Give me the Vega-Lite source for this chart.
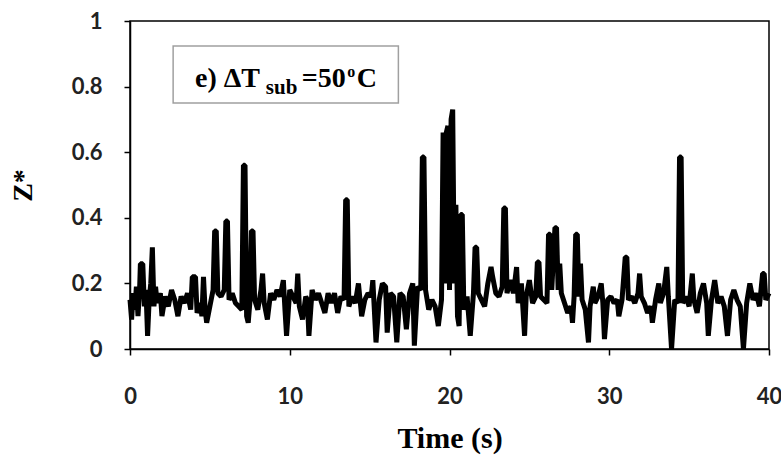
{
  "$schema": "https://vega.github.io/schema/vega-lite/v6.json",
  "width": 639,
  "height": 328,
  "autosize": {"type": "none"},
  "padding": {"left": 130, "top": 21, "right": 12, "bottom": 120},
  "background": "white",
  "config": {"view": {"stroke": "black", "strokeWidth": 1.5}},
  "layer": [
    {
      "data": {"values": [
        {"t":0,"z":0.15},{"t":0.1,"z":0.09},{"t":0.2,"z":0.17},{"t":0.3,"z":0.12},{"t":0.4,"z":0.19},{"t":0.5,"z":0.10},{"t":0.6,"z":0.18},{"t":0.65,"z":0.26},{"t":0.8,"z":0.26},{"t":0.9,"z":0.13},{"t":1.0,"z":0.18},{"t":1.1,"z":0.04},{"t":1.2,"z":0.15},{"t":1.3,"z":0.20},{"t":1.4,"z":0.31},{"t":1.5,"z":0.13},{"t":1.6,"z":0.19},{"t":1.7,"z":0.14},{"t":1.9,"z":0.17},{"t":2.0,"z":0.10},{"t":2.2,"z":0.16},{"t":2.4,"z":0.13},{"t":2.6,"z":0.18},{"t":2.8,"z":0.15},{"t":3.0,"z":0.10},{"t":3.2,"z":0.16},{"t":3.4,"z":0.14},{"t":3.6,"z":0.17},{"t":3.8,"z":0.12},{"t":3.9,"z":0.22},{"t":4.1,"z":0.22},{"t":4.2,"z":0.11},{"t":4.4,"z":0.14},{"t":4.5,"z":0.10},{"t":4.6,"z":0.22},{"t":4.7,"z":0.12},{"t":4.8,"z":0.08},{"t":5.0,"z":0.13},{"t":5.2,"z":0.18},{"t":5.3,"z":0.36},{"t":5.4,"z":0.36},{"t":5.5,"z":0.17},{"t":5.7,"z":0.16},{"t":5.9,"z":0.18},{"t":6.0,"z":0.39},{"t":6.1,"z":0.39},{"t":6.2,"z":0.15},{"t":6.4,"z":0.17},{"t":6.6,"z":0.14},{"t":6.8,"z":0.13},{"t":7.0,"z":0.12},{"t":7.1,"z":0.56},{"t":7.2,"z":0.56},{"t":7.3,"z":0.10},{"t":7.4,"z":0.08},{"t":7.5,"z":0.14},{"t":7.6,"z":0.36},{"t":7.7,"z":0.36},{"t":7.8,"z":0.15},{"t":8.0,"z":0.12},{"t":8.2,"z":0.18},{"t":8.3,"z":0.23},{"t":8.4,"z":0.14},{"t":8.6,"z":0.09},{"t":8.8,"z":0.17},{"t":9.0,"z":0.15},{"t":9.2,"z":0.18},{"t":9.4,"z":0.16},{"t":9.6,"z":0.21},{"t":9.7,"z":0.12},{"t":9.8,"z":0.04},{"t":10.0,"z":0.18},{"t":10.2,"z":0.16},{"t":10.4,"z":0.14},{"t":10.5,"z":0.23},{"t":10.6,"z":0.13},{"t":10.8,"z":0.09},{"t":11.0,"z":0.16},{"t":11.1,"z":0.15},{"t":11.2,"z":0.04},{"t":11.4,"z":0.18},{"t":11.6,"z":0.15},{"t":11.8,"z":0.17},{"t":12.0,"z":0.14},{"t":12.2,"z":0.11},{"t":12.4,"z":0.17},{"t":12.6,"z":0.14},{"t":12.8,"z":0.17},{"t":13.0,"z":0.11},{"t":13.2,"z":0.16},{"t":13.4,"z":0.15},{"t":13.5,"z":0.455},{"t":13.6,"z":0.455},{"t":13.7,"z":0.13},{"t":13.9,"z":0.16},{"t":14.1,"z":0.14},{"t":14.3,"z":0.20},{"t":14.5,"z":0.10},{"t":14.7,"z":0.15},{"t":14.9,"z":0.17},{"t":15.1,"z":0.16},{"t":15.2,"z":0.21},{"t":15.4,"z":0.02},{"t":15.6,"z":0.15},{"t":15.8,"z":0.20},{"t":16.0,"z":0.19},{"t":16.1,"z":0.05},{"t":16.3,"z":0.17},{"t":16.5,"z":0.16},{"t":16.7,"z":0.02},{"t":16.9,"z":0.17},{"t":17.1,"z":0.16},{"t":17.3,"z":0.06},{"t":17.5,"z":0.17},{"t":17.7,"z":0.20},{"t":17.8,"z":0.01},{"t":18.0,"z":0.19},{"t":18.2,"z":0.18},{"t":18.3,"z":0.585},{"t":18.4,"z":0.585},{"t":18.5,"z":0.18},{"t":18.7,"z":0.12},{"t":18.9,"z":0.15},{"t":19.1,"z":0.13},{"t":19.3,"z":0.07},{"t":19.5,"z":0.15},{"t":19.6,"z":0.66},{"t":19.7,"z":0.20},{"t":19.8,"z":0.66},{"t":19.9,"z":0.68},{"t":20.0,"z":0.18},{"t":20.1,"z":0.70},{"t":20.2,"z":0.73},{"t":20.3,"z":0.20},{"t":20.4,"z":0.44},{"t":20.5,"z":0.10},{"t":20.6,"z":0.07},{"t":20.7,"z":0.41},{"t":20.8,"z":0.41},{"t":20.9,"z":0.12},{"t":21.1,"z":0.16},{"t":21.3,"z":0.04},{"t":21.5,"z":0.17},{"t":21.6,"z":0.31},{"t":21.7,"z":0.31},{"t":21.8,"z":0.17},{"t":22.0,"z":0.15},{"t":22.2,"z":0.13},{"t":22.4,"z":0.20},{"t":22.6,"z":0.25},{"t":22.7,"z":0.22},{"t":22.9,"z":0.17},{"t":23.1,"z":0.16},{"t":23.3,"z":0.19},{"t":23.4,"z":0.43},{"t":23.5,"z":0.43},{"t":23.6,"z":0.17},{"t":23.8,"z":0.21},{"t":24.0,"z":0.17},{"t":24.2,"z":0.25},{"t":24.3,"z":0.14},{"t":24.5,"z":0.20},{"t":24.7,"z":0.04},{"t":24.8,"z":0.16},{"t":25.0,"z":0.21},{"t":25.2,"z":0.14},{"t":25.4,"z":0.16},{"t":25.5,"z":0.265},{"t":25.6,"z":0.265},{"t":25.7,"z":0.16},{"t":25.9,"z":0.15},{"t":26.1,"z":0.14},{"t":26.2,"z":0.35},{"t":26.3,"z":0.35},{"t":26.4,"z":0.18},{"t":26.6,"z":0.37},{"t":26.7,"z":0.37},{"t":26.8,"z":0.18},{"t":26.9,"z":0.26},{"t":27.0,"z":0.17},{"t":27.2,"z":0.14},{"t":27.4,"z":0.11},{"t":27.6,"z":0.13},{"t":27.7,"z":0.08},{"t":27.8,"z":0.16},{"t":27.9,"z":0.35},{"t":28.0,"z":0.35},{"t":28.1,"z":0.16},{"t":28.2,"z":0.26},{"t":28.3,"z":0.15},{"t":28.5,"z":0.12},{"t":28.7,"z":0.02},{"t":28.8,"z":0.13},{"t":29.0,"z":0.19},{"t":29.1,"z":0.14},{"t":29.3,"z":0.16},{"t":29.5,"z":0.20},{"t":29.6,"z":0.14},{"t":29.7,"z":0.03},{"t":29.9,"z":0.15},{"t":30.1,"z":0.16},{"t":30.3,"z":0.14},{"t":30.5,"z":0.15},{"t":30.6,"z":0.10},{"t":30.8,"z":0.15},{"t":31.0,"z":0.28},{"t":31.1,"z":0.28},{"t":31.2,"z":0.15},{"t":31.4,"z":0.16},{"t":31.6,"z":0.14},{"t":31.8,"z":0.17},{"t":31.9,"z":0.23},{"t":32.0,"z":0.16},{"t":32.2,"z":0.14},{"t":32.4,"z":0.11},{"t":32.6,"z":0.13},{"t":32.7,"z":0.08},{"t":32.9,"z":0.15},{"t":33.1,"z":0.20},{"t":33.2,"z":0.14},{"t":33.4,"z":0.17},{"t":33.6,"z":0.25},{"t":33.7,"z":0.16},{"t":33.9,"z":0.00},{"t":34.1,"z":0.15},{"t":34.3,"z":0.14},{"t":34.4,"z":0.585},{"t":34.5,"z":0.585},{"t":34.6,"z":0.14},{"t":34.8,"z":0.16},{"t":35.0,"z":0.13},{"t":35.2,"z":0.23},{"t":35.3,"z":0.15},{"t":35.5,"z":0.11},{"t":35.7,"z":0.17},{"t":35.9,"z":0.20},{"t":36.1,"z":0.14},{"t":36.2,"z":0.04},{"t":36.4,"z":0.15},{"t":36.6,"z":0.21},{"t":36.8,"z":0.14},{"t":37.0,"z":0.16},{"t":37.2,"z":0.13},{"t":37.4,"z":0.04},{"t":37.6,"z":0.15},{"t":37.8,"z":0.18},{"t":38.0,"z":0.15},{"t":38.2,"z":0.13},{"t":38.4,"z":0.00},{"t":38.6,"z":0.14},{"t":38.8,"z":0.20},{"t":39.0,"z":0.15},{"t":39.2,"z":0.17},{"t":39.4,"z":0.13},{"t":39.6,"z":0.23},{"t":39.7,"z":0.23},{"t":39.8,"z":0.15},{"t":40.0,"z":0.17}
      ]},
      "mark": {"type": "line", "color": "black", "strokeWidth": 5, "strokeJoin": "bevel"},
      "encoding": {
        "x": {"field": "t", "type": "quantitative",
              "scale": {"domain": [0, 40], "nice": false, "zero": false},
              "axis": {"values": [0, 10, 20, 30, 40], "grid": false, "tickSize": 6, "tickColor": "black", "domainColor": "black", "domainWidth": 1.5, "tickWidth": 1.5,
                       "labelFont": "Lato", "labelFontWeight": "bold", "labelFontSize": 22, "labelColor": "#222", "labelPadding": 31, "labelFlush": false, "labelOverlap": false,
                       "title": "Time (s)", "titleFont": "Liberation Serif", "titleFontWeight": "bold", "titleFontSize": 30, "titleColor": "black", "titlePadding": 16}},
        "y": {"field": "z", "type": "quantitative",
              "scale": {"domain": [0, 1], "nice": false},
              "axis": {"values": [0, 0.2, 0.4, 0.6, 0.8, 1], "format": "~g", "grid": false, "tickSize": 6, "tickColor": "black", "domainColor": "black", "domainWidth": 1.5, "tickWidth": 1.5,
                       "labelFont": "Lato", "labelFontWeight": "bold", "labelFontSize": 22, "labelColor": "#222", "labelPadding": 22, "labelFlush": false, "labelOverlap": false,
                       "title": "Z*", "titleFont": "Liberation Serif", "titleFontWeight": "bold", "titleFontSize": 28, "titleColor": "black", "titlePadding": 34}}
      }
    },
    {
      "data": {"values": [{}]},
      "mark": {"type": "rect", "fill": "white", "stroke": "#a0a0a0", "strokeWidth": 1.5},
      "encoding": {
        "x": {"datum": 2.7, "type": "quantitative"},
        "x2": {"datum": 16.8},
        "y": {"datum": 0.924, "type": "quantitative"},
        "y2": {"datum": 0.75}
      }
    },
    {
      "data": {"values": [{}]},
      "mark": {"type": "text", "text": "e) ΔT", "font": "Liberation Serif", "fontWeight": "bold", "fontSize": 28, "align": "left", "baseline": "alphabetic", "color": "black"},
      "encoding": {"x": {"datum": 4.07, "type": "quantitative"}, "y": {"datum": 0.80, "type": "quantitative"}}
    },
    {
      "data": {"values": [{}]},
      "mark": {"type": "text", "text": "sub", "font": "Liberation Serif", "fontWeight": "bold", "fontSize": 21, "align": "left", "baseline": "alphabetic", "color": "black"},
      "encoding": {"x": {"datum": 8.5, "type": "quantitative"}, "y": {"datum": 0.778, "type": "quantitative"}}
    },
    {
      "data": {"values": [{}]},
      "mark": {"type": "text", "text": "=50", "font": "Liberation Serif", "fontWeight": "bold", "fontSize": 28, "align": "left", "baseline": "alphabetic", "color": "black"},
      "encoding": {"x": {"datum": 10.75, "type": "quantitative"}, "y": {"datum": 0.80, "type": "quantitative"}}
    },
    {
      "data": {"values": [{}]},
      "mark": {"type": "text", "text": "o", "font": "Liberation Serif", "fontWeight": "bold", "fontSize": 16, "align": "left", "baseline": "alphabetic", "color": "black"},
      "encoding": {"x": {"datum": 13.6, "type": "quantitative"}, "y": {"datum": 0.83, "type": "quantitative"}}
    },
    {
      "data": {"values": [{}]},
      "mark": {"type": "text", "text": "C", "font": "Liberation Serif", "fontWeight": "bold", "fontSize": 28, "align": "left", "baseline": "alphabetic", "color": "black"},
      "encoding": {"x": {"datum": 14.2, "type": "quantitative"}, "y": {"datum": 0.80, "type": "quantitative"}}
    }
  ]
}
